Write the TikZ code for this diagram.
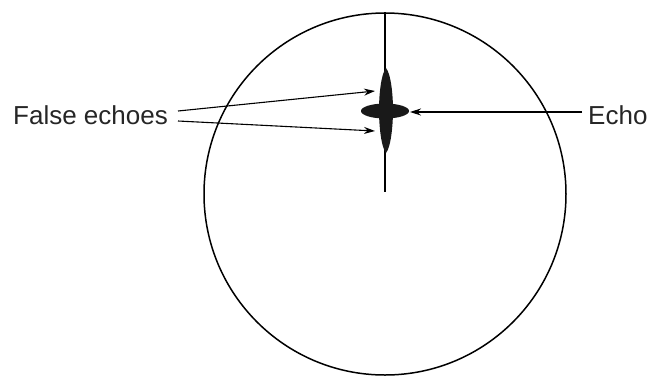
\documentclass[tikz,border=0pt]{standalone}
\usepackage{fontspec}
\setmainfont{Liberation Sans}
\usetikzlibrary{arrows.meta,shapes.geometric}
\begin{document}
\begin{tikzpicture}[x=1pt,y=-1pt,
  lbl/.style={inner sep=0pt,font=\fontsize{26}{30}\selectfont,text=black!85},
  ptr/.style={line width=1.1pt,-{Stealth[length=11pt,width=7pt]}},
  blob/.style={fill=black!90,draw=none}]
\useasboundingbox (0,0) rectangle (649,376);
\node[draw,circle,line width=1.5pt,minimum size=362pt,inner sep=0pt] (scope) at (385,194) {};
\draw[line width=1.5pt] (scope.north) -- (385,192) coordinate (mid);
\fill[blob] (386,68) .. controls (391,74) and (393,95) .. (393,110)
  .. controls (393,125) and (391,147) .. (386,153)
  .. controls (381,147) and (379,125) .. (379,110)
  .. controls (379,95) and (381,74) .. (386,68) -- cycle;
\fill[blob] (385,111) ellipse [x radius=24, y radius=7.5];
\coordinate (t1) at (375,91);
\coordinate (t2) at (375,131);
\coordinate (t3) at (410,112);
\node[lbl,anchor=base west] (fe) at (13,124) {False echoes};
\node[lbl,anchor=base west] (echo) at (588,124) {Echo};
\coordinate (s1) at (178,111);
\coordinate (s2) at (178,121);
\coordinate (s3) at (582,112);
\draw[ptr] (s1) -- (t1);
\draw[ptr] (s2) -- (t2);
\draw[ptr] (s3) -- (t3);
\end{tikzpicture}
\end{document}
